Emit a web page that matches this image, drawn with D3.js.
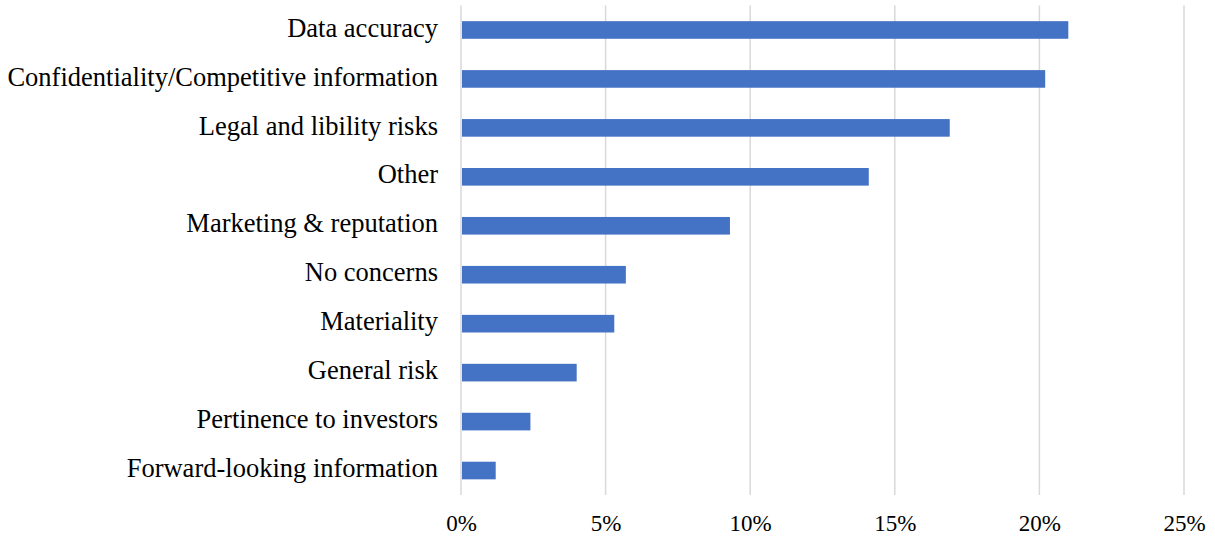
<!DOCTYPE html>
<html>
<head>
<meta charset="utf-8">
<script src="https://cdn.jsdelivr.net/npm/d3@7"></script>
<style>
  html, body { margin: 0; padding: 0; background: #ffffff; }
  svg { display: block; }
  text { font-family: "Liberation Serif", "Times New Roman", serif; fill: #000; }
</style>
</head>
<body>
<svg id="chart" width="1215" height="538"></svg>
<script>
// Share of responses by concern category (percent)
const categories = [
  "Data accuracy",
  "Confidentiality/Competitive information",
  "Legal and libility risks",
  "Other",
  "Marketing & reputation",
  "No concerns",
  "Materiality",
  "General risk",
  "Pertinence to investors",
  "Forward-looking information"
];
const values = [21.0, 20.2, 16.9, 14.1, 9.3, 5.7, 5.3, 4.0, 2.4, 1.2];
const tickValues = [0, 5, 10, 15, 20, 25];

const svg = d3.select("#chart");
const margin = { top: 5.5, right: 31, bottom: 43, left: 461 };
const width = 1215 - margin.left - margin.right;
const height = 538 - margin.top - margin.bottom;

const g = svg.append("g").attr("transform", `translate(${margin.left},${margin.top})`);

const x = d3.scaleLinear().domain([0, 25]).range([0, width]);
const y = d3.scaleBand().domain(categories).range([0, height]).paddingInner(0.64).paddingOuter(0.32);

// vertical gridlines
g.append("g")
  .selectAll("line")
  .data(tickValues)
  .join("line")
  .attr("x1", d => x(d)).attr("x2", d => x(d))
  .attr("y1", 0).attr("y2", height)
  .attr("stroke", "#d9d9d9")
  .attr("stroke-width", 1.5);

// bars
g.append("g")
  .selectAll("rect")
  .data(values)
  .join("rect")
  .attr("x", x(0) + 1)
  .attr("y", (d, i) => y(categories[i]))
  .attr("width", d => x(d) - x(0) - 1)
  .attr("height", y.bandwidth())
  .attr("fill", "#4472C4");

// category labels
const yAxis = d3.axisLeft(y).tickSize(0).tickPadding(23);
g.append("g")
  .call(yAxis)
  .call(s => s.select(".domain").remove())
  .selectAll("text")
  .attr("dy", "0.25em")
  .attr("font-size", "26.5px")
  .attr("font-family", "Liberation Serif, Times New Roman, serif");

// percent axis
const xAxis = d3.axisBottom(x).tickValues(tickValues).tickFormat(d => d + "%").tickSize(0).tickPadding(19.5);
g.append("g")
  .attr("transform", `translate(0,${height})`)
  .call(xAxis)
  .call(s => s.select(".domain").remove())
  .selectAll("text")
  .attr("font-size", "23px")
  .attr("font-family", "Liberation Serif, Times New Roman, serif");
</script>
</body>
</html>
